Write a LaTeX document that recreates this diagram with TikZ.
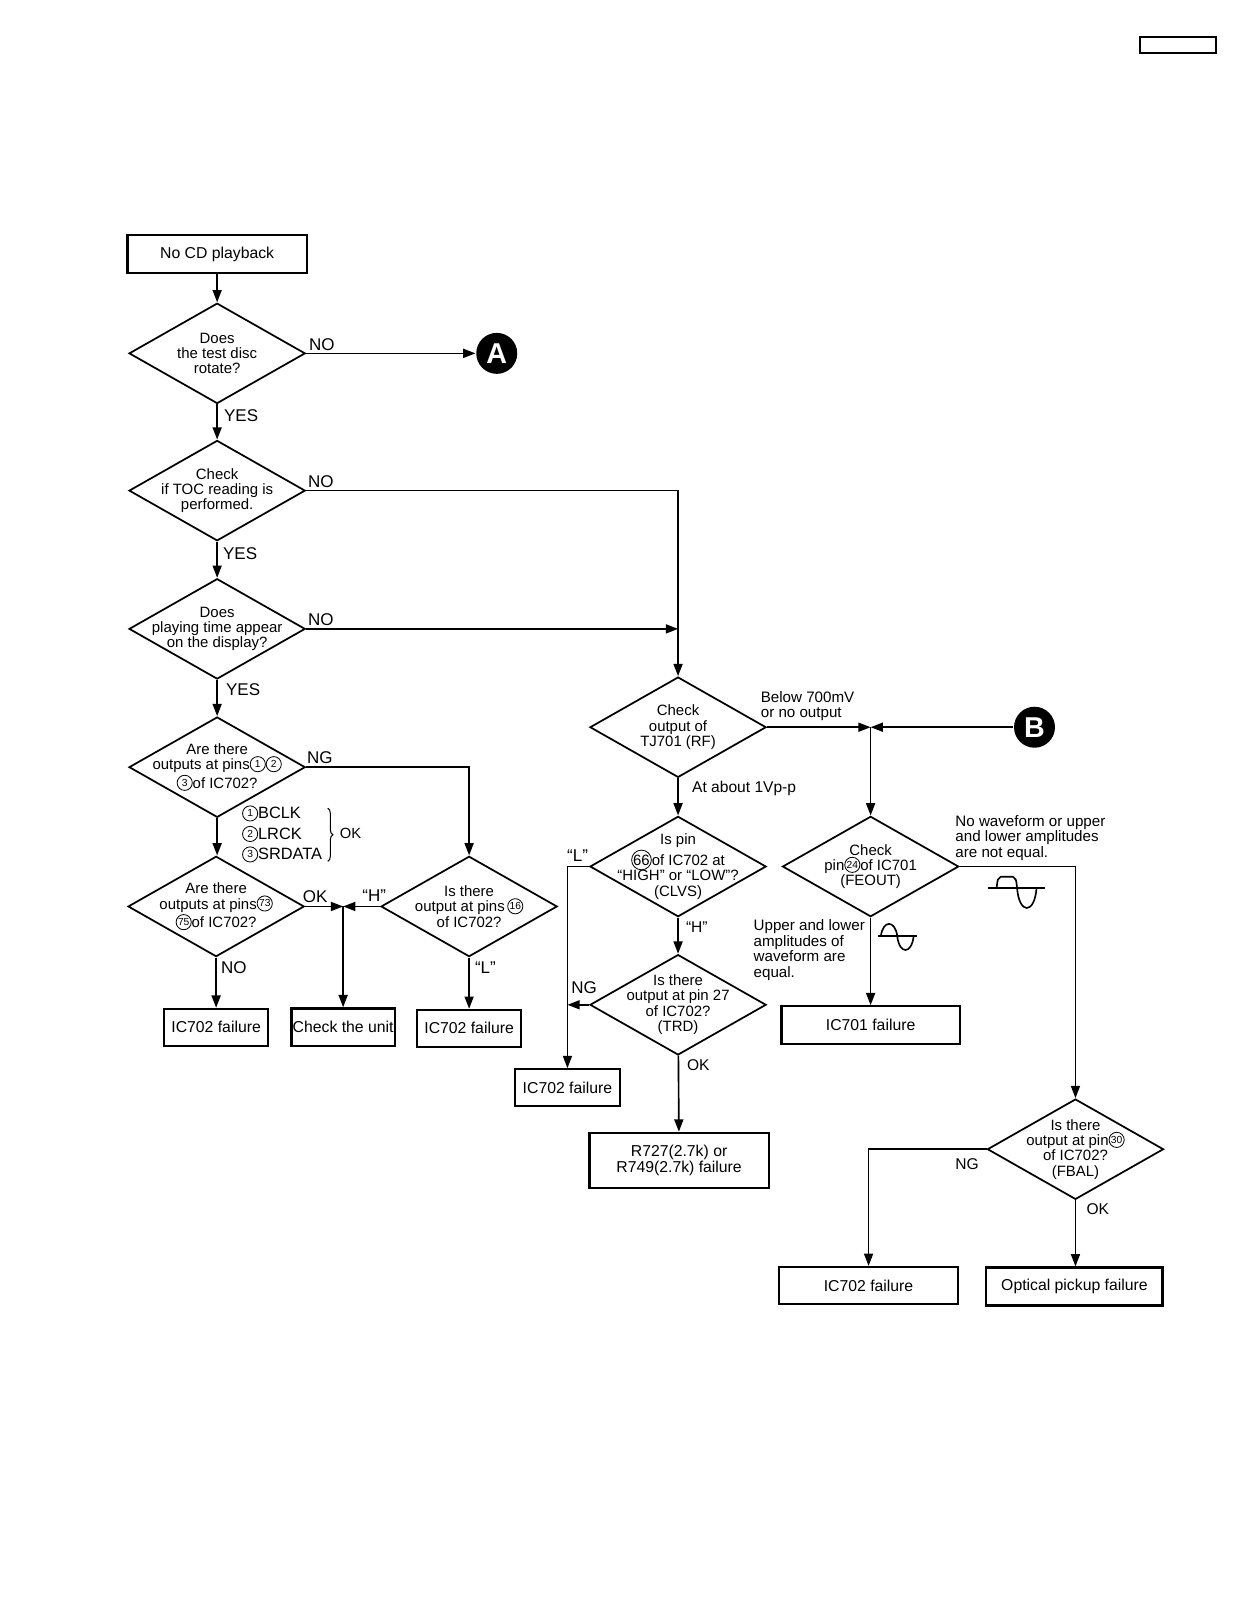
\documentclass[tikz,border=0pt]{standalone}
\usepackage{fontspec}
\setmainfont{Liberation Sans}
\usetikzlibrary{shapes.geometric,arrows.meta,decorations.pathreplacing}

\newcommand{\pinno}[1]{\tikz[baseline={([yshift=-2.7pt]pinc.center)}]\node[circle, draw, line width=0.4pt, inner sep=0pt, minimum size=7.4pt, font=\fontsize{5}{5}\selectfont] (pinc) {#1};}
\newcommand{\pinbig}[1]{\tikz[baseline={([yshift=-2.7pt]pinc.center)}]\node[circle, draw, line width=0.4pt, inner sep=0pt, minimum size=9pt, font=\fontsize{7.3}{7.3}\selectfont] (pinc) {#1};}

\begin{document}
\begin{tikzpicture}[
        x=0.5pt, y=-0.5pt,
        >={Triangle[length=6pt,width=4.4pt]},
        line width=0.8pt,
        process/.style={rectangle, draw, line width=1.1pt, inner sep=0pt, align=center, font=\fontsize{7.7}{7.9}\selectfont},
        decision/.style={diamond, draw, line width=0.85pt, minimum width=86pt, minimum height=49pt, inner sep=0pt},
        qtext/.style={align=center, inner sep=0pt, font=\fontsize{7.3}{7.5}\selectfont},
        connector/.style={circle, fill=black, minimum size=20pt, inner sep=0pt, text=white, font=\fontsize{14}{14}\selectfont\bfseries},
        edge_label/.style={anchor=base west, inner sep=0pt, font=\fontsize{8.3}{8.5}\selectfont},
        note/.style={anchor=north west, align=left, inner sep=0pt, font=\fontsize{7.4}{7.6}\selectfont}
    ]
        \fill[white] (0,0) rectangle (1222,1567);
        \useasboundingbox (0,0) rectangle (1222,1567);
        \draw[line width=1pt] (1113,36) rectangle (1187,52);

        % Left column: disc, TOC, display, outputs
        \node[process, minimum width=87.5pt, minimum height=18.5pt] (start) at (212,248) {No CD playback};
        \node[decision, label={[qtext]center:{Does\\the test disc\\rotate?}}] (q_rotate) at (212,345) {};
        \node[connector] (conn_a) at (485,345) {A};
        \node[decision, label={[qtext]center:{Check\\if TOC reading is\\performed.}}] (q_toc) at (212,479) {};
        \node[decision, label={[qtext]center:{Does\\playing time appear\\on the display?}}] (q_time) at (212,614) {};
        \node[decision, label={[qtext]center:{Are there\\outputs at pins\pinno{1}\pinno{2}\\\pinno{3}of IC702?}}] (q_pins123) at (212,749) {};
        \node[decision, label={[qtext]center:{Are there\\outputs at pins\pinno{73}\\\pinno{75}of IC702?}}] (q_pins7375) at (211,885) {};
        \node[decision, label={[qtext]center:{Is there\\output at pins\,\pinno{16}\\of IC702?}}] (q_pin16) at (458,885) {};
        \coordinate (j_unit) at (335,885);
        \node[process, minimum width=51pt, minimum height=18pt] (fail_a) at (211,1003) {IC702 failure};
        \node[process, minimum width=50.5pt, minimum height=18.5pt] (check_unit) at (335,1003) {Check the unit};
        \node[process, minimum width=51pt, minimum height=18pt] (fail_b) at (458,1004) {IC702 failure};

        \draw[->] (start) -- (q_rotate);
        \draw[->] (q_rotate) -- (conn_a) node[edge_label] at (301,342) {NO};
        \draw[->] (q_rotate) -- (q_toc) node[edge_label] at (218,412) {YES};
        \draw[->] (q_toc) -- (q_time) node[edge_label] at (217,546) {YES};
        \draw[->] (q_time) -- (q_pins123) node[edge_label] at (220,679) {YES};
        \draw[->] (q_pins123.east) -| (q_pin16.north) node[edge_label] at (299,745) {NG};
        \draw[->] (q_pins123.south) -- (q_pins123.south |- q_pins7375.north);
        \draw[->] (q_pins7375.east) -- (j_unit) node[edge_label] at (295,881) {OK};
        \draw[->] (q_pin16.west) -- (j_unit) node[edge_label] at (353,880) {“H”};
        \draw[->] (j_unit) -- (j_unit |- check_unit.north);
        \draw[->] (q_pins7375) -- (fail_a) node[edge_label] at (215,950) {NO};
        \draw[->] (q_pin16) -- (fail_b) node[edge_label] at (463,950) {“L”};

        % Pin names
        \node[note, font=\fontsize{8}{10}\selectfont] (pin_list) at (236,786) {\pinno{1}BCLK\\\pinno{2}LRCK\\\pinno{3}SRDATA};
        \draw[decorate, decoration={brace, amplitude=2.5pt}, line width=0.5pt] (320,789) -- (320,841);
        \node[edge_label, font=\fontsize{7.2}{7.2}\selectfont] (ok_list) at (331,819) {OK};

        % Right part: RF, CLVS, TRD
        \node[decision, label={[qtext]center:{Check\\output of\\TJ701 (RF)}}] (q_tj701) at (662,710) {};
        \node[decision, label={[qtext]center:{Is pin\\\pinbig{66}of IC702 at\\“HIGH” or “LOW”?\\(CLVS)}}] (q_clvs) at (662,846) {};
        \node[decision, label={[qtext]center:{Is there\\output at pin 27\\of IC702?\\(TRD)}}] (q_trd) at (662,981) {};
        \node[process, minimum width=51.5pt, minimum height=18pt] (fail_c) at (554,1062) {IC702 failure};
        \node[process, minimum width=87.5pt, minimum height=27pt] (fail_r727) at (663,1133) {R727(2.7k) or\\R749(2.7k) failure};

        \draw[->] (q_toc.east) -| (q_tj701.north) node[edge_label] at (300,476) {NO};
        \draw[->] (q_time.east) -- (q_time.east -| q_tj701.north) node[edge_label] at (300,611) {NO};
        \draw[->] (q_tj701) -- (q_clvs) node[edge_label, font=\fontsize{7.6}{8}\selectfont] at (675,774) {At about 1Vp-p};
        \draw[->] (q_clvs.west) -| (fail_c.north) node[edge_label] at (553,841) {“L”};
        \draw[->] (q_clvs) -- (q_trd) node[edge_label, font=\fontsize{7.6}{8}\selectfont] at (669,910) {“H”};
        \draw[->] (q_trd.west) -- (q_trd.west -| fail_c.north) node[edge_label] at (557,970) {NG};
        \draw[->] (q_trd) -- (fail_r727) node[edge_label, font=\fontsize{7.6}{8}\selectfont] at (670,1045) {OK};

        % FEOUT and FBAL
        \node[connector] (conn_b) at (1010,710) {B};
        \coordinate (j_rf) at (850,710);
        \node[decision, label={[qtext]center:{Check\\pin\pinno{24}of IC701\\(FEOUT)}}] (q_feout) at (850,846) {};
        \node[process, minimum width=87pt, minimum height=18.5pt] (fail_ic701) at (850,1001) {IC701 failure};
        \node[decision, label={[qtext]center:{Is there\\output at pin\pinno{30}\\of IC702?\\(FBAL)}}] (q_fbal) at (1050,1122) {};
        \node[process, minimum width=87.5pt, minimum height=18pt] (fail_d) at (848,1255) {IC702 failure};
        \node[process, minimum width=86pt, minimum height=18.5pt] (fail_pickup) at (1049,1256) {Optical pickup failure};

        \draw[->] (q_tj701.east) -- (j_rf);
        \node[note] (low_rf) at (742,674) {Below 700mV\\or no output};
        \draw[->] (conn_b) -- (j_rf);
        \draw[->] (j_rf) -- (q_feout);
        \draw[->] (q_feout) -- (fail_ic701);
        \node[note] (equal_note) at (735,897) {Upper and lower\\amplitudes of\\waveform are\\equal.};
        \draw[->] (q_feout.east) -| (q_fbal.north);
        \node[note] (unequal_note) at (932,795) {No waveform or upper\\and lower amplitudes\\are not equal.};
        \draw[->] (q_fbal.west) -| (fail_d.north) node[edge_label, font=\fontsize{7.6}{8}\selectfont] at (932,1142) {NG};
        \draw[->] (q_fbal.south) -- (q_fbal.south |- fail_pickup.north) node[edge_label, font=\fontsize{7.6}{8}\selectfont] at (1060,1186) {OK};

        % Waveforms
        \draw[line width=0.8pt] (857,914) -- (895,914);
        \draw[line width=0.8pt] (860,914) .. controls (862,898) and (874,898) .. (876,914) .. controls (878,932) and (890,932) .. (892,914);
        \draw[line width=0.8pt] (965,867) -- (1020,867);
        \draw[line width=0.8pt] (973,867) .. controls (974,858) .. (977,856) -- (989,856) .. controls (992,858) .. (993,867) .. controls (995,893) and (1010,893) .. (1012,867);
    \end{tikzpicture}
\end{document}
